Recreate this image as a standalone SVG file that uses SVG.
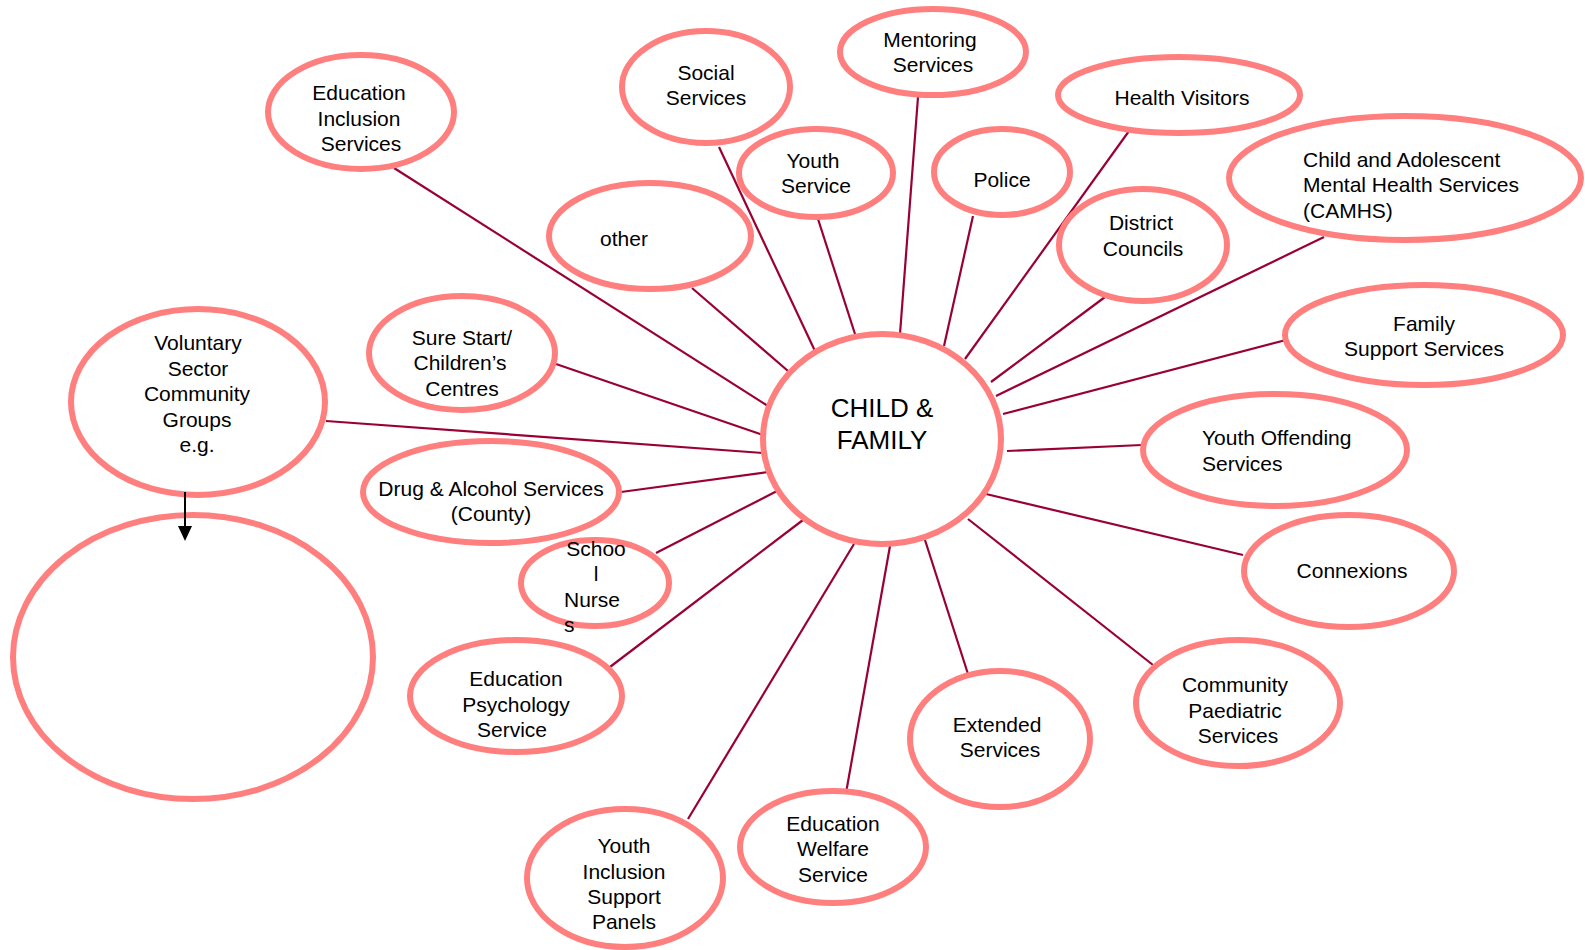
<svg xmlns="http://www.w3.org/2000/svg" width="1585" height="950" viewBox="0 0 1585 950">
<style>
.n ellipse{fill:#fff;stroke:#FF7F7F;stroke-width:6}
.c line{stroke:#990033;stroke-width:2.2}
text{font-family:"Liberation Sans",Arial,sans-serif;font-size:21px;fill:#000;text-anchor:middle}
.l{text-anchor:start}
</style>
<rect width="1585" height="950" fill="#fff"/>
<g id="connectors" class="c">
<line x1="394" y1="168" x2="768" y2="406"/>
<line x1="692" y1="288" x2="788" y2="371"/>
<line x1="719" y1="147" x2="815" y2="351"/>
<line x1="818" y1="219" x2="855" y2="334"/>
<line x1="918" y1="97" x2="900" y2="334"/>
<line x1="973" y1="216" x2="944" y2="346"/>
<line x1="1129" y1="131" x2="965" y2="359"/>
<line x1="1105" y1="297" x2="991" y2="382"/>
<line x1="1324" y1="237" x2="996" y2="396"/>
<line x1="1286" y1="340" x2="1003" y2="414"/>
<line x1="1142" y1="445" x2="1007" y2="451"/>
<line x1="1243" y1="555" x2="986" y2="494"/>
<line x1="1153" y1="665" x2="968" y2="519"/>
<line x1="968" y1="674" x2="925" y2="540"/>
<line x1="846" y1="793" x2="890" y2="546"/>
<line x1="688" y1="819" x2="854" y2="544"/>
<line x1="610" y1="667" x2="803" y2="520"/>
<line x1="656" y1="553" x2="777" y2="491"/>
<line x1="621" y1="492" x2="768" y2="472"/>
<line x1="326" y1="421" x2="763" y2="453"/>
<line x1="556" y1="364" x2="763" y2="435"/>
</g>
<g id="center" class="n"><ellipse cx="882" cy="439" rx="119" ry="105"/>
<text x="882" y="417" style="font-size:26px">CHILD &amp;</text>
<text x="882" y="448.5" style="font-size:26px">FAMILY</text></g>
<g id="edinc" class="n"><ellipse cx="361" cy="112" rx="93" ry="57"/>
<text x="359" y="100">Education</text><text x="359" y="125.5">Inclusion</text><text x="361" y="151">Services</text></g>
<g id="social" class="n"><ellipse cx="706" cy="87" rx="84" ry="56"/>
<text x="706" y="80">Social</text><text x="706" y="105">Services</text></g>
<g id="mentoring" class="n"><ellipse cx="933" cy="52" rx="93" ry="43"/>
<text x="930" y="47">Mentoring</text><text x="933" y="72">Services</text></g>
<g id="youthservice" class="n"><ellipse cx="816" cy="173" rx="77" ry="44"/>
<text x="813" y="168">Youth</text><text x="816" y="193">Service</text></g>
<g id="police" class="n"><ellipse cx="1002" cy="172" rx="68" ry="43"/>
<text x="1002" y="187">Police</text></g>
<g id="healthvisitors" class="n"><ellipse cx="1179" cy="95" rx="121" ry="38"/>
<text x="1182" y="105">Health Visitors</text></g>
<g id="camhs" class="n"><ellipse cx="1405" cy="178" rx="176" ry="62"/>
<text class="l" x="1303" y="167">Child and Adolescent</text><text class="l" x="1303" y="192">Mental Health Services</text><text class="l" x="1303" y="218">(CAMHS)</text></g>
<g id="district" class="n"><ellipse cx="1143" cy="245" rx="84" ry="56"/>
<text x="1141" y="230">District</text><text x="1143" y="256">Councils</text></g>
<g id="other" class="n"><ellipse cx="650" cy="236" rx="101" ry="53"/>
<text x="624" y="246">other</text></g>
<g id="surestart" class="n"><ellipse cx="462" cy="353" rx="93" ry="57"/>
<text x="462" y="345">Sure Start/</text><text x="460" y="370">Children’s</text><text x="462" y="396">Centres</text></g>
<g id="voluntary" class="n"><ellipse cx="198" cy="402" rx="127" ry="93"/>
<text x="198" y="350">Voluntary</text><text x="198" y="375.5">Sector</text><text x="197" y="401">Community</text><text x="197" y="426.5">Groups</text><text x="197" y="452">e.g.</text></g>
<g id="family" class="n"><ellipse cx="1424" cy="335" rx="139" ry="50"/>
<text x="1424" y="331">Family</text><text x="1424" y="356">Support Services</text></g>
<g id="youthoffending" class="n"><ellipse cx="1275" cy="450" rx="132" ry="56"/>
<text class="l" x="1202" y="445">Youth Offending</text><text class="l" x="1202" y="471">Services</text></g>
<g id="drug" class="n"><ellipse cx="491" cy="492" rx="128" ry="51"/>
<text x="491" y="496">Drug &amp; Alcohol Services</text><text x="491" y="521">(County)</text></g>
<g id="schoolnurses" class="n"><ellipse cx="595" cy="583" rx="74" ry="43"/>
<text x="596" y="556">Schoo</text><text x="596" y="581">l</text><text x="592" y="607">Nurse</text><text class="l" x="564" y="632">s</text></g>
<g id="edpsych" class="n"><ellipse cx="516" cy="696" rx="106" ry="56"/>
<text x="516" y="686">Education</text><text x="516" y="712">Psychology</text><text x="512" y="737">Service</text></g>
<g id="empty" class="n"><ellipse cx="193" cy="657" rx="180" ry="142"/></g>
<g id="yisp" class="n"><ellipse cx="625" cy="878" rx="98" ry="69"/>
<text x="624" y="853">Youth</text><text x="624" y="878.5">Inclusion</text><text x="624" y="904">Support</text><text x="624" y="929">Panels</text></g>
<g id="ews" class="n"><ellipse cx="833" cy="847" rx="93" ry="56"/>
<text x="833" y="831">Education</text><text x="833" y="856">Welfare</text><text x="833" y="882">Service</text></g>
<g id="extended" class="n"><ellipse cx="1000" cy="739" rx="90" ry="68"/>
<text x="997" y="732">Extended</text><text x="1000" y="757">Services</text></g>
<g id="commpaed" class="n"><ellipse cx="1238" cy="703" rx="102" ry="63"/>
<text x="1235" y="692">Community</text><text x="1235" y="718">Paediatric</text><text x="1238" y="743">Services</text></g>
<g id="connexions" class="n"><ellipse cx="1349" cy="571" rx="105" ry="56"/>
<text x="1352" y="578">Connexions</text></g>
<g id="arrow">
<line x1="185" y1="492" x2="185" y2="527" stroke="#000" stroke-width="2"/>
<path d="M178,526 L192,526 L185,541 Z" fill="#000"/>
</g>
</svg>
